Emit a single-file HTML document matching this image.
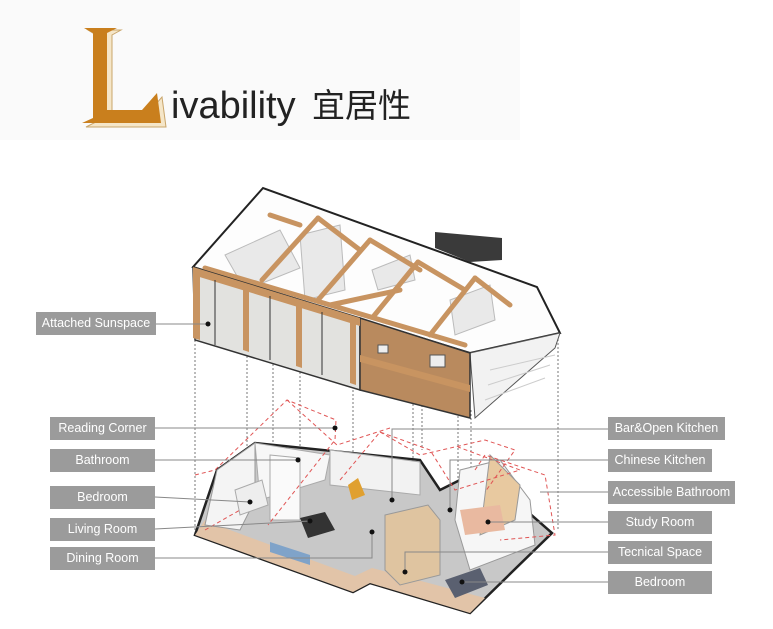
<!DOCTYPE html>
<html><head><meta charset="utf-8">
<style>
html,body{margin:0;padding:0;background:#fff;}
body{width:773px;height:629px;position:relative;overflow:hidden;font-family:"Liberation Sans","Noto Sans CJK SC",sans-serif;}
.hdr{position:absolute;left:0;top:0;width:520px;height:140px;background:#fafafa;}
.lbl{position:absolute;background:#9b9b9b;color:#fff;font-size:12.5px;line-height:23px;height:23px;text-align:center;white-space:nowrap;}
</style></head><body>
<div class="hdr"></div>
<svg width="773" height="629" style="position:absolute;left:0;top:0">
<!-- L logo -->
<polygon points="88,30 121,30 112,35 112,113 148,113 162,97 166,127 86,127 96,122 96,35" fill="#f5e6c8" stroke="#c9a56a" stroke-width="1"/>
<polygon points="84,28 117,28 107,33 107,110 142,110 157,93 161,123 82,123 93,118 93,33" fill="#c97f1d"/>
<text x="171" y="118" font-size="38" fill="#222" font-family="Liberation Sans, sans-serif">ivability</text>
<text x="312" y="117" font-size="33" fill="#222" font-family="Noto Sans CJK SC, sans-serif">宜居性</text>

<!-- dotted verticals -->
<g stroke="#777" stroke-width="1" stroke-dasharray="2,2" fill="none">
<line x1="195" y1="340" x2="195" y2="535"/><line x1="247" y1="352" x2="247" y2="460"/>
<line x1="273" y1="360" x2="273" y2="450"/><line x1="300" y1="368" x2="300" y2="530"/>
<line x1="353" y1="382" x2="353" y2="470"/><line x1="413" y1="400" x2="413" y2="590"/>
<line x1="422" y1="405" x2="422" y2="450"/><line x1="458" y1="412" x2="458" y2="600"/>
<line x1="471" y1="410" x2="471" y2="600"/><line x1="558" y1="335" x2="558" y2="530"/>
</g>

<!-- upper building -->
<polygon points="435,232 502,238 502,260 470,262 435,248" fill="#3a3a3a"/>
<polygon points="193,267 263,188 537,287 560,333 470,353" fill="#fdfdfd" stroke="#222" stroke-width="2"/>
<polygon points="470,353 560,333 555,348 475,418" fill="#f2f2f2" stroke="#555" stroke-width="1"/>
<g stroke="#ccc" stroke-width="1"><line x1="490" y1="370" x2="555" y2="355"/><line x1="488" y1="385" x2="550" y2="365"/><line x1="485" y1="400" x2="545" y2="378"/></g>
<g fill="#e9e9e9" stroke="#bbb"><polygon points="225,255 280,230 300,268 245,290"/><polygon points="300,235 340,225 345,290 305,300"/><polygon points="450,300 490,285 495,320 455,335"/><polygon points="372,270 410,255 415,280 378,290"/></g>
<g stroke="#c89461" stroke-width="5" stroke-linecap="round">
<line x1="262" y1="280" x2="318" y2="218"/><line x1="318" y1="218" x2="360" y2="250"/>
<line x1="318" y1="300" x2="370" y2="240"/><line x1="370" y1="240" x2="420" y2="270"/>
<line x1="373" y1="317" x2="418" y2="262"/><line x1="418" y1="262" x2="465" y2="290"/>
<line x1="430" y1="335" x2="475" y2="278"/><line x1="475" y1="278" x2="510" y2="305"/>
<line x1="205" y1="268" x2="465" y2="345"/><line x1="330" y1="305" x2="400" y2="290"/>
<line x1="270" y1="215" x2="300" y2="225"/>
</g>
<polygon points="193,267 360,318 360,390 195,340" fill="#e2e2df" stroke="#333" stroke-width="1.5"/>
<polygon points="360,318 470,353 470,418 360,390" fill="#b98a5e" stroke="#333" stroke-width="1.5"/>
<g fill="#c89461"><polygon points="193,267 360,318 360,326 193,275"/><polygon points="193,270 200,270 200,340 193,338"/><polygon points="243,288 249,288 249,352 243,350"/><polygon points="296,304 302,304 302,368 296,366"/><polygon points="350,318 356,318 356,385 350,383"/><polygon points="360,355 470,385 470,392 360,362"/></g>
<g stroke="#333" stroke-width="1"><line x1="215" y1="280" x2="215" y2="345"/><line x1="270" y1="296" x2="270" y2="360"/><line x1="322" y1="312" x2="322" y2="375"/></g>
<g fill="#eee" stroke="#555"><rect x="378" y="345" width="10" height="8"/><rect x="430" y="355" width="15" height="12"/></g>

<!-- lower floor -->
<polygon points="195,535 353,592 370,583 470,613 552,533 480,470 440,490 420,460 255,443 217,470" fill="#c8c8c8" stroke="#222" stroke-width="2.5"/>
<polygon points="195,535 353,592 370,583 470,613 485,598 372,568 355,576 230,530 205,520" fill="#e2c4a8"/>
<polygon points="217,470 255,443 255,500 240,530 205,525" fill="#f4f4f4" stroke="#999"/>
<polygon points="255,443 330,455 325,480 260,500" fill="#f7f7f7" stroke="#aaa"/>
<polygon points="270,455 300,458 300,520 270,520" fill="#fafafa" stroke="#aaa"/>
<polygon points="330,450 420,462 420,495 330,485" fill="#f2f2f2" stroke="#aaa"/>
<polygon points="385,515 428,505 440,520 440,575 400,585 385,570" fill="#dfc4a0" stroke="#999"/>
<polygon points="460,470 500,460 530,500 535,545 470,570 455,520" fill="#f6f6f6" stroke="#999"/>
<polygon points="490,455 520,485 515,520 480,535" fill="#e8c9a0" stroke="#999"/>
<polygon points="460,510 500,505 505,530 465,535" fill="#e9b9a0"/>
<polygon points="445,580 480,568 488,585 455,598" fill="#5a6070"/>
<polygon points="300,518 325,512 335,530 308,538" fill="#333"/>
<polygon points="235,490 262,480 268,505 240,515" fill="#eee" stroke="#aaa"/>
<polygon points="348,485 358,478 365,495 352,500" fill="#e0a030"/>
<polygon points="270,542 310,555 310,565 270,552" fill="#7fa3c9"/>
<!-- red dashed roof outlines -->
<g stroke="#e05555" stroke-width="1" stroke-dasharray="4,3" fill="none">
<polyline points="195,475 215,470 287,400 336,420 335,440 268,525"/>
<polyline points="287,400 337,445 390,428"/>
<polyline points="340,480 380,432 430,450 455,490 520,470 458,447"/>
<polyline points="380,432 420,455 485,440 515,450 485,492"/>
<polyline points="475,470 485,455 545,475 555,535 500,540"/>
<polyline points="205,530 240,510"/>
</g>

<!-- leader lines -->
<g stroke="#888" stroke-width="1" fill="none">
<line x1="156" y1="324" x2="208" y2="324"/>
<line x1="155" y1="428" x2="335" y2="428"/>
<line x1="155" y1="460" x2="298" y2="460"/>
<line x1="155" y1="497" x2="250" y2="502"/>
<line x1="155" y1="529" x2="310" y2="521"/>
<polyline points="155,558 372,558 372,532"/>
<polyline points="608,429 392,429 392,500"/>
<polyline points="608,460 450,460 450,510"/>
<line x1="608" y1="492" x2="540" y2="492"/>
<line x1="608" y1="522" x2="488" y2="522"/>
<polyline points="608,552 405,552 405,572"/>
<line x1="608" y1="582" x2="462" y2="582"/>
</g>
<g fill="#111"><circle cx="208" cy="324" r="2.5"/><circle cx="335" cy="428" r="2.5"/><circle cx="298" cy="460" r="2.5"/><circle cx="250" cy="502" r="2.5"/><circle cx="310" cy="521" r="2.5"/><circle cx="372" cy="532" r="2.5"/><circle cx="392" cy="500" r="2.5"/><circle cx="450" cy="510" r="2.5"/><circle cx="488" cy="522" r="2.5"/><circle cx="405" cy="572" r="2.5"/><circle cx="462" cy="582" r="2.5"/></g>
</svg>

<div class="lbl" style="left:36px;top:312px;width:120px">Attached Sunspace</div>
<div class="lbl" style="left:50px;top:417px;width:105px">Reading Corner</div>
<div class="lbl" style="left:50px;top:449px;width:105px">Bathroom</div>
<div class="lbl" style="left:50px;top:486px;width:105px">Bedroom</div>
<div class="lbl" style="left:50px;top:518px;width:105px">Living Room</div>
<div class="lbl" style="left:50px;top:547px;width:105px">Dining Room</div>
<div class="lbl" style="left:608px;top:417px;width:117px">Bar&amp;Open Kitchen</div>
<div class="lbl" style="left:608px;top:449px;width:104px">Chinese Kitchen</div>
<div class="lbl" style="left:608px;top:481px;width:127px">Accessible Bathroom</div>
<div class="lbl" style="left:608px;top:511px;width:104px">Study Room</div>
<div class="lbl" style="left:608px;top:541px;width:104px">Tecnical Space</div>
<div class="lbl" style="left:608px;top:571px;width:104px">Bedroom</div>
</body></html>
